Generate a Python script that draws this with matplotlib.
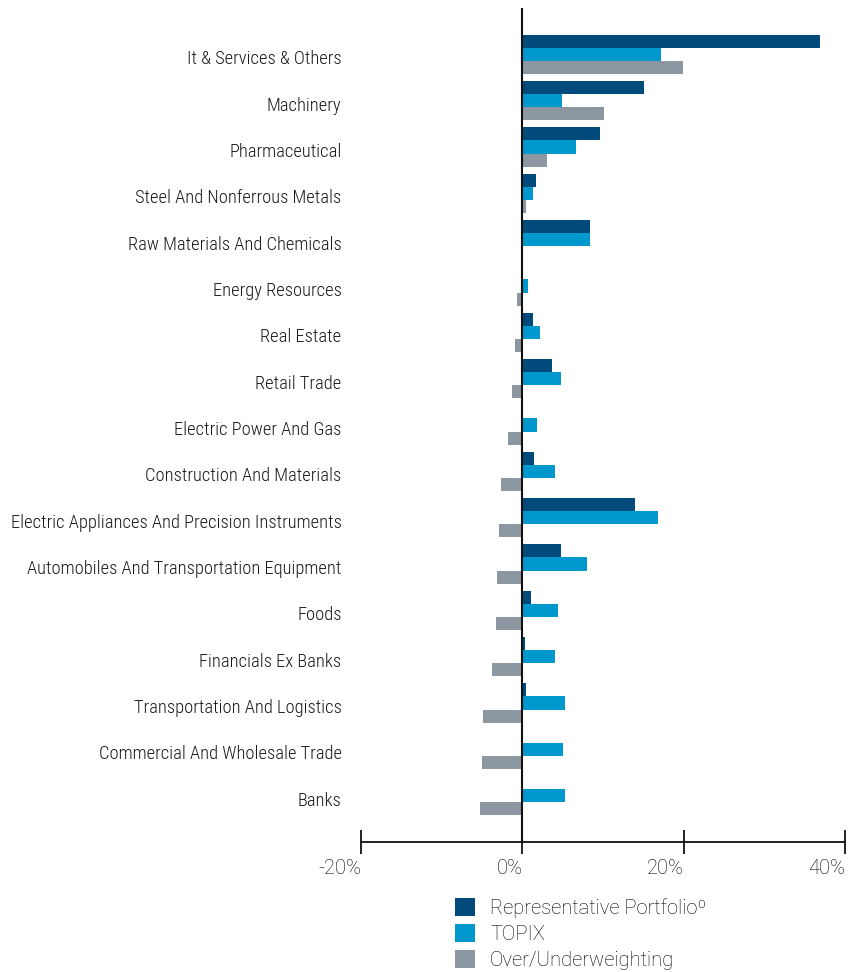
import os
import matplotlib.pyplot as plt
import matplotlib.font_manager as fm
import matplotlib.transforms as mtransforms
from matplotlib.patches import Patch
import numpy as np

categories = ["It & Services & Others", "Machinery", "Pharmaceutical",
              "Steel And Nonferrous Metals", "Raw Materials And Chemicals",
              "Energy Resources", "Real Estate", "Retail Trade",
              "Electric Power And Gas", "Construction And Materials",
              "Electric Appliances And Precision Instruments",
              "Automobiles And Transportation Equipment", "Foods",
              "Financials Ex Banks", "Transportation And Logistics",
              "Commercial And Wholesale Trade", "Banks"]
portfolio = [36.9, 15.1, 9.6, 1.65, 8.4, 0.0, 1.3, 3.65, 0.0, 1.4, 13.95, 4.75, 1.05, 0.3, 0.4, 0.0, 0.0]
topix = [17.2, 4.9, 6.6, 1.3, 8.4, 0.65, 2.15, 4.75, 1.8, 4.0, 16.8, 8.0, 4.4, 4.1, 5.25, 5.0, 5.25]
overunder = [19.9, 10.1, 3.1, 0.5, 0.0, -0.7, -0.95, -1.3, -1.8, -2.7, -2.95, -3.2, -3.3, -3.8, -4.9, -5.05, -5.3]
xticks = [-20, 0, 20, 40]
series_names = ["Representative Portfolioº", "TOPIX", "Over/Underweighting"]
colors = ["#004B7B", "#0098CD", "#8D97A2"]

# look for a narrow font for the category names
narrow = None
files = [f.fname for f in fm.fontManager.ttflist]
for key in ["RobotoCondensed-Light", "LiberationSansNarrow-Regular", "RobotoCondensed-Regular",
            "DejaVuSansCondensed.ttf", "OpenSans_Condensed-Regular", "OpenSansCondensed"]:
    hits = [p for p in files if key in os.path.basename(p)]
    if hits:
        narrow = hits[0]
        break
if narrow:
    cat_font = fm.FontProperties(fname=narrow, size=13.3)
else:
    cat_font = fm.FontProperties(family="Roboto", size=11)

fig = plt.figure(figsize=(8.49, 9.72), dpi=100)
ax = fig.add_axes([361/849, 1-842/972, 484/849, 834/972])

y = np.arange(len(categories))
h = 0.283
ax.barh(y - h, portfolio, height=h, color=colors[0], linewidth=0)
ax.barh(y, topix, height=h, color=colors[1], linewidth=0)
ax.barh(y + h, overunder, height=h, color=colors[2], linewidth=0)

ax.set_xlim(-20, 40)
ax.set_ylim(len(categories), -1)
ax.axvline(0, color="#111111", linewidth=1.5, zorder=3)

for s in ["top", "left", "right"]:
    ax.spines[s].set_visible(False)
ax.spines["bottom"].set_linewidth(1.3)
ax.spines["bottom"].set_color("#111111")

ax.set_yticks(y)
ax.set_yticklabels(categories, fontproperties=cat_font, color="#1a1a1a")
ax.tick_params(axis="y", length=0, pad=14)
shift = mtransforms.ScaledTranslation(0, -3/100, fig.dpi_scale_trans)
for lab in ax.get_yticklabels():
    lab.set_transform(lab.get_transform() + shift)

ax.set_xticks(xticks)
ax.set_xticklabels([f"{t}%" for t in xticks], family="Roboto", fontweight="light",
                   fontsize=14.5, color="#000000", ha="right")
ax.tick_params(axis="x", direction="inout", length=17, width=1.3, color="#111111", pad=4)

handles = [Patch(facecolor=c, edgecolor="none") for c in colors]
leg = ax.legend(handles, series_names, loc="upper left", bbox_to_anchor=(455/849, 1-898/972),
                bbox_transform=fig.transFigure, frameon=False,
                prop={"family": "Roboto", "weight": "light", "size": 14.5},
                handlelength=1.0, handleheight=1.0, handletextpad=0.75, labelspacing=0.3,
                borderpad=0, borderaxespad=0)
for t in leg.get_texts():
    t.set_color("#000000")

plt.savefig("out.png", dpi=100)
